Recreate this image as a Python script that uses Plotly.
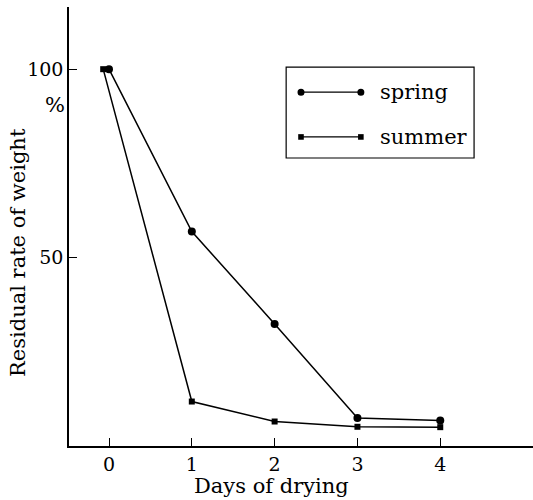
import plotly.graph_objects as go

days_spring = [0, 1, 2, 3, 4]
spring = [100, 56.9, 32.4, 7.4, 6.8]
days_summer = [-0.07, 1, 2, 3, 4]
summer = [100, 11.8, 6.5, 5.1, 5.0]
x_ticks = [0, 1, 2, 3, 4]
y_ticks = [50, 100]
y_tick_labels = ["50", "100"]

FONT = "DejaVu Serif"

fig = go.Figure()
fig.add_trace(go.Scatter(x=days_spring, y=spring, mode="lines+markers", name="spring",
                         line=dict(color="black", width=1.5),
                         marker=dict(symbol="circle", size=8, color="black")))
fig.add_trace(go.Scatter(x=days_summer, y=summer, mode="lines+markers", name="summer",
                         line=dict(color="black", width=1.5),
                         marker=dict(symbol="square", size=6, color="black")))

# custom legend (decoration)
shapes = [dict(type="rect", xref="paper", yref="paper", x0=0.468, x1=0.873, y0=0.656, y1=0.863,
               line=dict(color="black", width=1.2), fillcolor="rgba(0,0,0,0)")]
for yy, kind, r in [(0.806, "circle", 3.5), (0.704, "rect", 2.8)]:
    shapes.append(dict(type="line", xref="paper", yref="paper", x0=0.5, x1=0.629, y0=yy, y1=yy,
                       line=dict(color="black", width=1.3)))
    for xx in (0.5, 0.629):
        shapes.append(dict(type=kind, xref="paper", yref="paper", xsizemode="pixel", ysizemode="pixel",
                           xanchor=xx, yanchor=yy, x0=-r, x1=r, y0=-r, y1=r,
                           fillcolor="black", line=dict(color="black", width=0)))

annotations = [
    dict(text="spring", xref="paper", yref="paper", x=0.666, y=0.806, xanchor="left", yanchor="middle",
         showarrow=False, font=dict(family=FONT, size=21, color="black")),
    dict(text="summer", xref="paper", yref="paper", x=0.666, y=0.704, xanchor="left", yanchor="middle",
         showarrow=False, font=dict(family=FONT, size=21, color="black")),
    dict(text="%", xref="paper", yref="paper", x=-0.03, y=(446 - 105) / 439, xanchor="center", yanchor="middle",
         showarrow=False, font=dict(family=FONT, size=21, color="black")),
    dict(text="Residual rate of weight", xref="paper", yref="paper", x=(18 - 69) / 464, y=(446 - 253) / 439,
         xanchor="center", yanchor="middle", textangle=-90, showarrow=False,
         font=dict(family=FONT, size=21, color="black")),
    dict(text="Days of drying", xref="paper", yref="paper", x=(271 - 69) / 464, y=(446 - 486) / 439,
         xanchor="center", yanchor="middle", showarrow=False,
         font=dict(family=FONT, size=21, color="black")),
]

fig.update_layout(
    width=533, height=500,
    margin=dict(l=69, r=0, t=7, b=54),
    paper_bgcolor="white", plot_bgcolor="white",
    showlegend=False,
    font=dict(family=FONT, size=19, color="black"),
    shapes=shapes, annotations=annotations,
    xaxis=dict(range=[-0.483, 5.12], tickvals=x_ticks, ticks="inside", ticklen=8, tickwidth=1.2,
               tickcolor="black", showline=True, linecolor="black", linewidth=1.5,
               showgrid=False, zeroline=False, tickfont=dict(family=FONT, size=19)),
    yaxis=dict(range=[0, 116.5], tickvals=y_ticks, ticktext=y_tick_labels, ticks="inside", ticklen=8,
               tickwidth=1.2, tickcolor="black", showline=True, linecolor="black", linewidth=1.5,
               showgrid=False, zeroline=False, tickfont=dict(family=FONT, size=19)),
)

fig.write_html("out.html")
